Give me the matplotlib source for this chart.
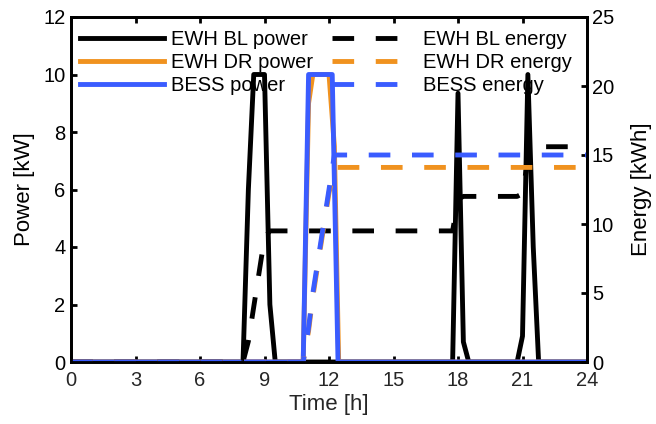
import matplotlib
matplotlib.use('Agg')
import matplotlib.pyplot as plt

plt.rcParams['font.family'] = ['Liberation Sans', 'DejaVu Sans']

# data, time in hours
bl_power_t = [0, 8.0, 8.25, 8.5, 8.75, 9.0, 9.25, 9.5, 17.75, 18.0, 18.25, 18.5,
              20.75, 21.0, 21.25, 21.5, 21.75, 24]
bl_power = [0, 0, 6, 10, 10, 10, 2, 0, 0, 9.35, 0.7, 0, 0, 0.9, 10, 4, 0, 0]

dr_power_t = [0, 10.8, 11.05, 11.25, 12.0, 12.25, 12.45, 24]
dr_power = [0, 0, 9, 10, 10, 7.5, 0, 0]

bess_power_t = [0, 10.8, 11.05, 12.15, 12.42, 24]
bess_power = [0, 0, 10, 10, 0, 0]

bl_energy_t = [0, 8.0, 8.25, 8.5, 8.75, 9.0, 9.25, 17.75, 18.0, 18.25,
               20.75, 21.0, 21.25, 21.5, 24]
bl_energy = [0, 0, 1.5, 4.0, 6.5, 9.0, 9.5, 9.5, 11.8, 12.0,
             12.0, 12.2, 14.7, 15.6, 15.6]

dr_energy_t = [0, 10.8, 11.05, 11.25, 11.5, 11.75, 12.0, 12.25, 24]
dr_energy = [0, 0, 2.25, 4.75, 7.25, 9.75, 12.25, 14.1, 14.1]

bess_energy_t = [0, 10.8, 11.05, 11.25, 11.5, 11.75, 12.0, 12.25, 24]
bess_energy = [0, 0, 2.5, 5.0, 7.5, 10.0, 12.5, 15.0, 15.0]

c_black = '#000000'
c_orange = '#F0921F'
c_blue = '#3A5CFF'
lw = 3.5
dash = (0, (4.45, 4.45))

fig = plt.figure(figsize=(6.56, 4.24), dpi=100)
ax = fig.add_axes([71 / 656, 1 - 362 / 424, 516 / 656, 345 / 424])
ax2 = ax.twinx()

# power (left axis)
l1, = ax.plot(bl_power_t, bl_power, color=c_black, lw=lw, label='EWH BL power')
l2, = ax.plot(dr_power_t, dr_power, color=c_orange, lw=lw, label='EWH DR power')
l3, = ax.plot(bess_power_t, bess_power, color=c_blue, lw=lw, label='BESS power')

# energy (right axis)
l4, = ax2.plot(bl_energy_t, bl_energy, color=c_black, lw=lw, ls=dash, label='EWH BL energy')
l5, = ax2.plot(dr_energy_t, dr_energy, color=c_orange, lw=lw, ls=dash, label='EWH DR energy')
l6, = ax2.plot(bess_energy_t, bess_energy, color=c_blue, lw=lw, ls=dash, label='BESS energy')

ax.set_xlim(0, 24)
ax.set_ylim(0, 12)
ax2.set_ylim(0, 25)
ax.set_xticks(range(0, 25, 3))
ax.set_yticks(range(0, 13, 2))
ax2.set_yticks(range(0, 26, 5))

ax.tick_params(axis='x', direction='in', length=4, width=2, labelsize=14.5,
               pad=6.5, top=True, labelcolor='#262626')
ax.tick_params(axis='y', direction='in', length=4, width=2, labelsize=14.5,
               pad=4, right=False)
ax2.tick_params(axis='y', direction='in', length=4, width=2, labelsize=14.5, pad=3.5)
for a in (ax, ax2):
    for s in a.spines.values():
        s.set_linewidth(2)
ax.spines['bottom'].set_color('#262626')

ax.set_xlabel('Time [h]', fontsize=16, color='#262626', labelpad=3)
ax.set_ylabel('Power [kW]', fontsize=16, labelpad=6)
ax2.set_ylabel('Energy [kWh]', fontsize=16, labelpad=12)

leg = ax.legend(handles=[l1, l2, l3, l4, l5, l6], ncol=2, frameon=False,
                loc='upper left', bbox_to_anchor=(0.017, 0.962), borderpad=0,
                borderaxespad=0, fontsize=14.5, handlelength=4.2,
                handletextpad=0.33, columnspacing=0.92, labelspacing=0.2)
leg.set_zorder(1)

fig.savefig('out.png', dpi=100)
